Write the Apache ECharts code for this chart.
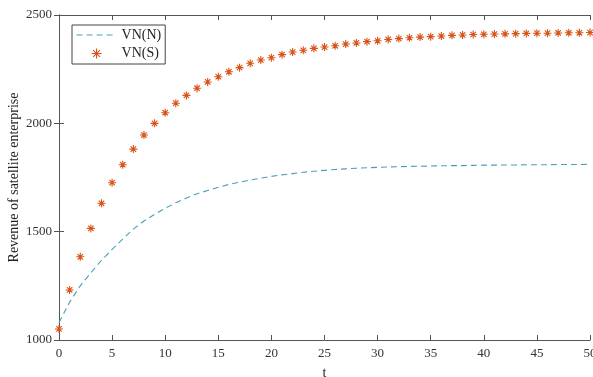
<!DOCTYPE html>
<html>
<head>
<meta charset="utf-8">
<script src="https://cdn.jsdelivr.net/npm/echarts@6/dist/echarts.min.js"></script>
<style>html,body{margin:0;padding:0;background:#fff}#c{width:593px;height:377px}</style>
</head>
<body>
<div id="c"></div>
<script>
var tValues = [];
for (var i = 0; i <= 50; i++) tValues.push(i);
var vnN = [1080,1175,1250,1310,1368,1418,1466,1512,1549,1580,1608,1633,1655,1675,1690,1705,1718,1728,1738,1747,1755,1762,1768,1774,1779,1783,1787,1790,1793,1795,1797,1799,1800,1801,1802,1803,1804,1805,1805,1806,1807,1807,1808,1808,1809,1809,1809,1810,1810,1810,1811];
var vnS = [1051,1231,1384,1515,1631,1726,1809,1881,1946,2000,2049,2093,2129,2162,2191,2215,2238,2257,2277,2292,2303,2317,2329,2337,2346,2352,2358,2366,2371,2377,2381,2387,2391,2395,2398,2400,2403,2406,2408,2410,2411,2412,2413,2414,2415,2416,2416,2417,2418,2418,2419];
var xTicks = [0,5,10,15,20,25,30,35,40,45,50];
var yTicks = [1000,1500,2000,2500];

var font = 'Liberation Serif';
var axisCol = '#555';
var lineCol = '#4A9FB8';
var starCol = '#D95319';
var star = 'path://M0 5 L10 5 M5 0 L5 10 M1.6 1.6 L8.4 8.4 M8.4 1.6 L1.6 8.4';

var chart = echarts.init(document.getElementById('c'), null, {renderer: 'canvas'});
var baseX = {type: 'value', min: 0, max: 50, interval: 5, splitLine: {show: false},
  axisLine: {lineStyle: {color: axisCol, width: 1}}, axisTick: {inside: true, length: 5, lineStyle: {color: axisCol}}};
var baseY = {type: 'value', min: 1000, max: 2500, interval: 500, splitLine: {show: false},
  axisLine: {show: true, lineStyle: {color: axisCol, width: 1}}, axisTick: {show: true, inside: true, length: 5, lineStyle: {color: axisCol}}};
chart.setOption({
  animation: false,
  backgroundColor: '#fff',
  grid: {left: 59, right: 3, top: 15, bottom: 37, containLabel: false, outerBoundsMode: 'none'},
  legend: {
    orient: 'vertical', left: 72, top: 25,
    itemWidth: 40, itemHeight: 10, itemGap: 4,
    padding: [3, 4, 3, 4],
    borderColor: '#444', borderWidth: 1, backgroundColor: '#fff',
    textStyle: {fontFamily: font, fontSize: 14, color: '#222'},
    data: [
      {name: 'VN(N)', itemStyle: {opacity: 0}, lineStyle: {color: lineCol, width: 1.1, type: [6, 4]}},
      {name: 'VN(S)', icon: star, itemStyle: {color: 'none', borderColor: starCol, borderWidth: 1.1}}
    ]
  },
  xAxis: [
    Object.assign({}, baseX, {position: 'bottom', name: 't', nameLocation: 'middle', nameGap: 26, nameMoveOverlap: false,
      nameTextStyle: {fontFamily: font, fontSize: 14, color: '#222'},
      axisLabel: {fontFamily: font, fontSize: 13, color: '#333', margin: 7, formatter: function (v) { return String(v); }}}),
    Object.assign({}, baseX, {position: 'top', axisLabel: {show: false}})
  ],
  yAxis: [
    Object.assign({}, baseY, {position: 'left', name: 'Revenue of satellite enterprise', nameLocation: 'middle', nameGap: 38, nameMoveOverlap: false,
      nameTextStyle: {fontFamily: font, fontSize: 14, color: '#222'},
      axisLabel: {fontFamily: font, fontSize: 13, color: '#333', margin: 7, formatter: function (v) { return String(v); }}}),
    Object.assign({}, baseY, {position: 'right', axisLabel: {show: false}})
  ],
  series: [
    {name: 'VN(N)', type: 'line', showSymbol: false, symbol: 'none',
      data: tValues.map(function (t, i) { return [t, vnN[i]]; }),
      lineStyle: {color: lineCol, width: 1.1, type: [6, 4]}, itemStyle: {color: lineCol}},
    {name: 'VN(S)', type: 'scatter', symbol: star, symbolSize: 8,
      data: tValues.map(function (t, i) { return [t, vnS[i]]; }),
      itemStyle: {color: 'none', borderColor: starCol, borderWidth: 1.1, opacity: 1}}
  ]
});
</script>
</body>
</html>
